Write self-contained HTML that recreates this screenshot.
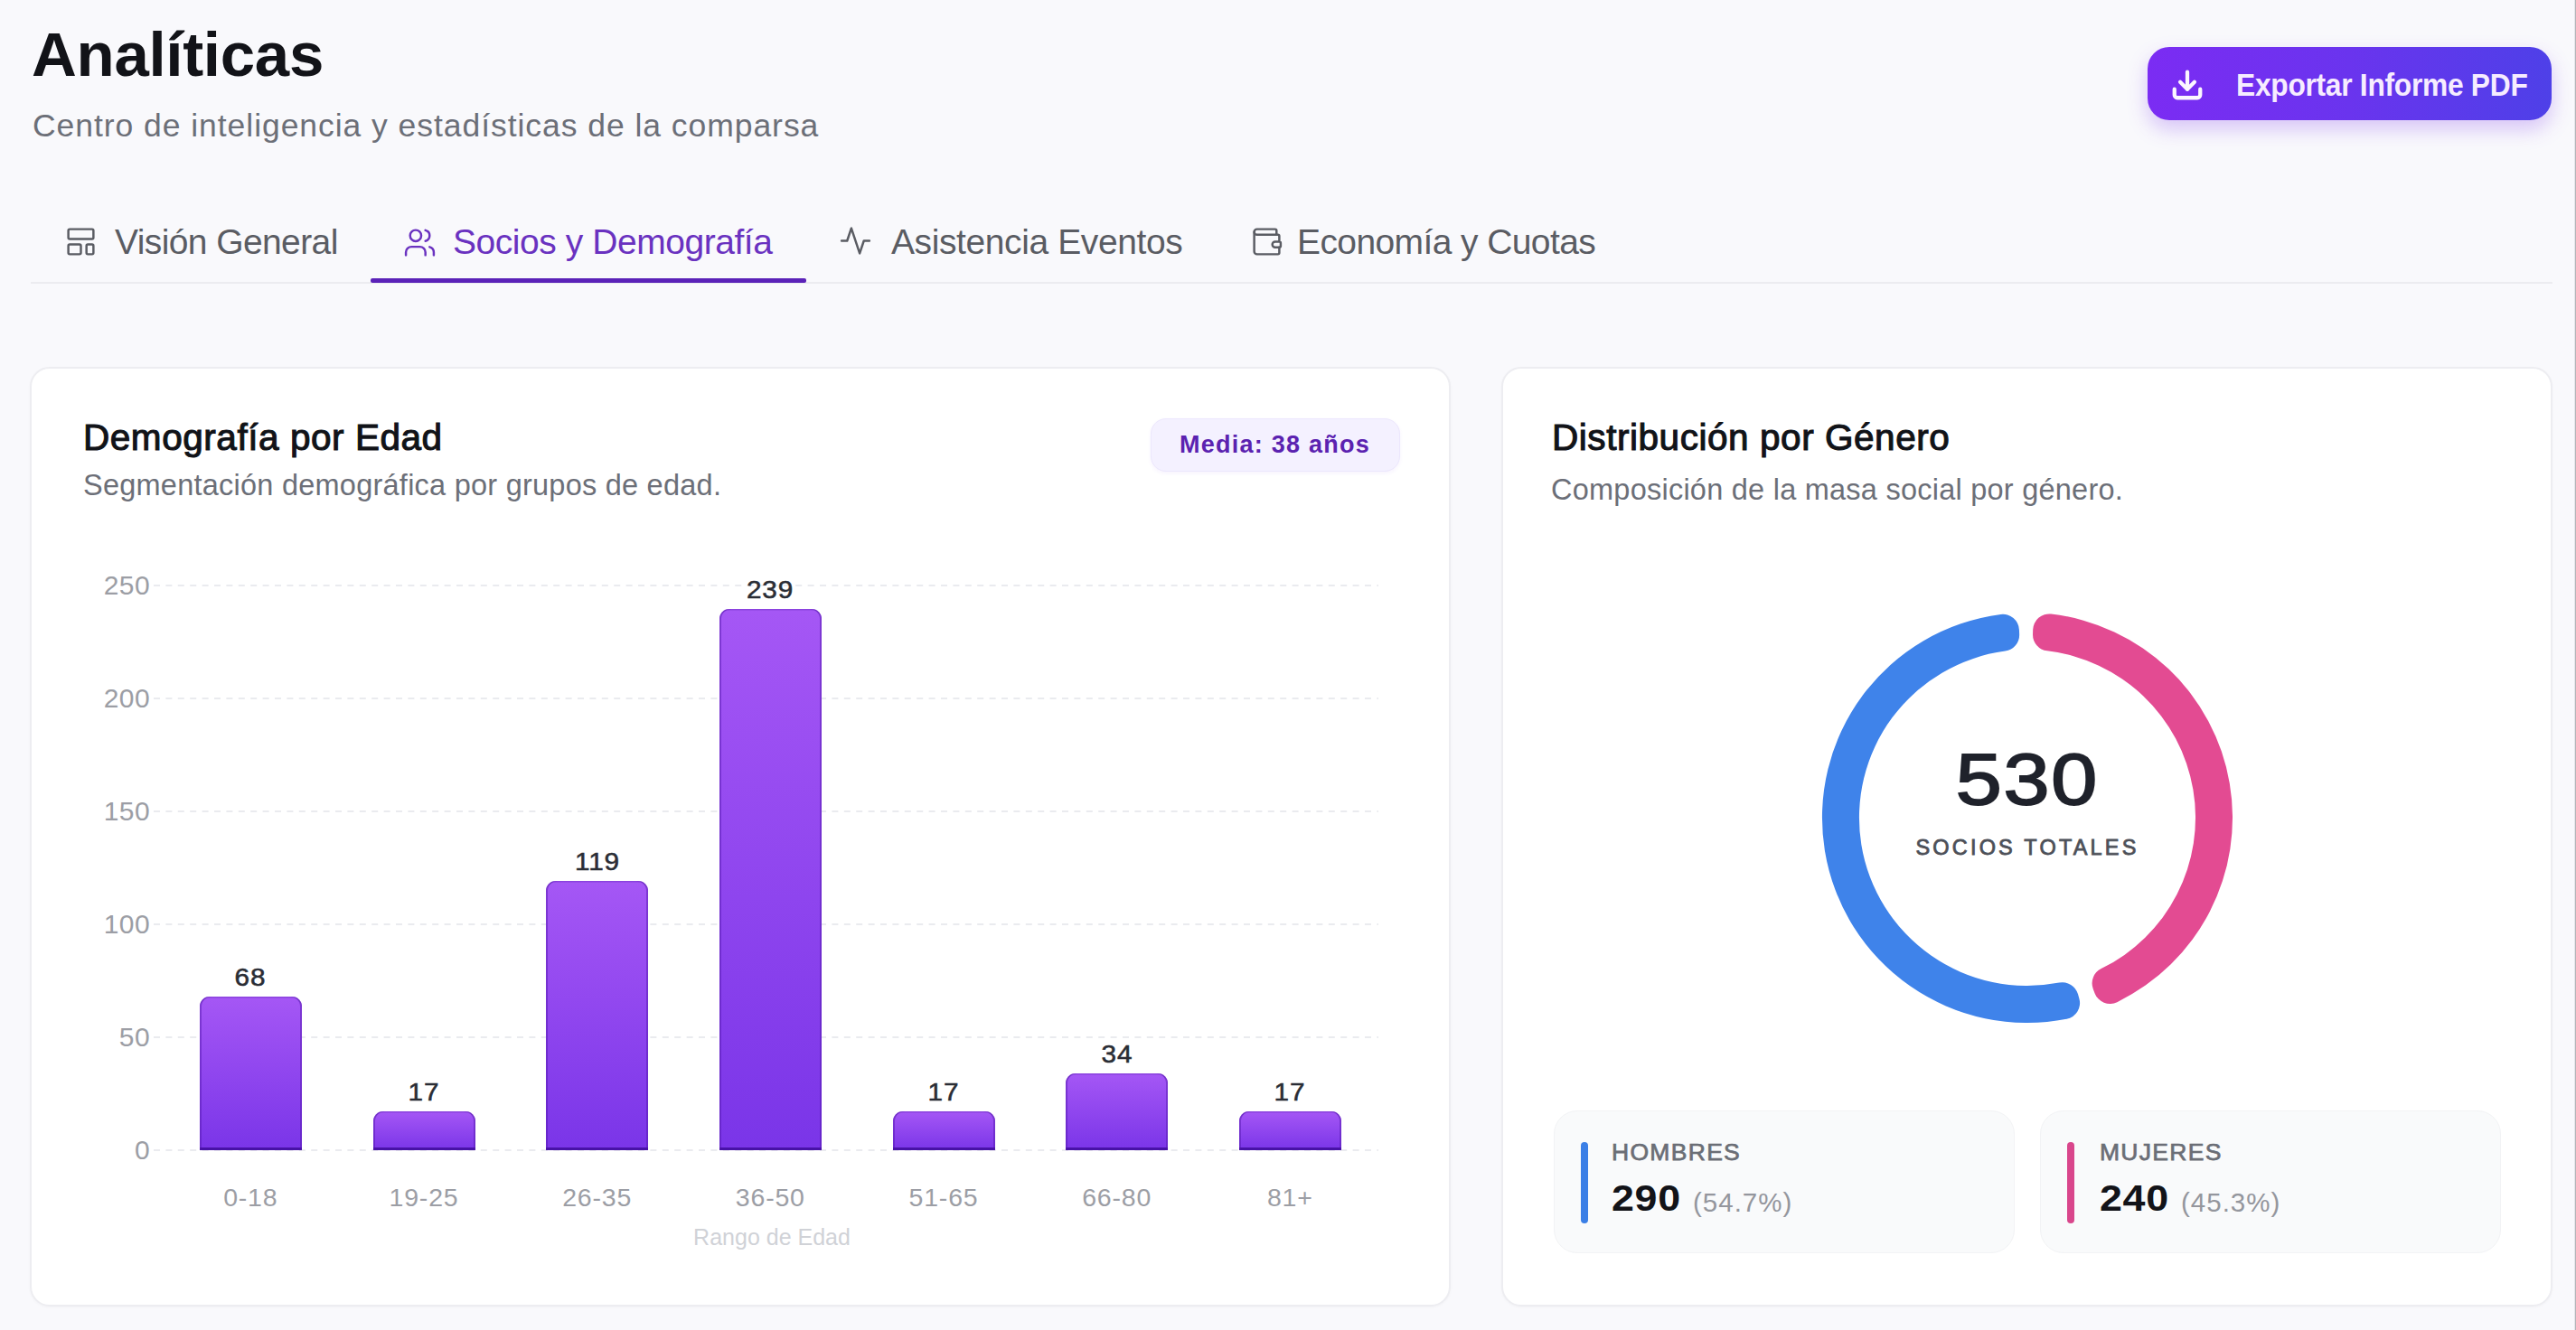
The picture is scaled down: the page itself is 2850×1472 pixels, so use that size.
<!DOCTYPE html>
<html lang="es">
<head>
<meta charset="utf-8">
<title>Analíticas</title>
<style>
html,body{margin:0;padding:0;}
body{width:2850px;height:1472px;overflow:hidden;background:#f9f9fc;font-family:"Liberation Sans",sans-serif;position:relative;}
.a{position:absolute;white-space:nowrap;}
.edge{position:absolute;left:2848px;top:0;width:1px;height:1472px;background:#e6e6ea;border-right:1px solid #b4b4b8;}
#title{left:35px;top:26px;font-size:69px;line-height:69px;font-weight:700;color:#121318;letter-spacing:-0.3px;}
#sub{left:36px;top:121px;font-size:35.5px;line-height:36px;color:#6c6f78;letter-spacing:0.95px;}
#btn{left:2376px;top:52px;width:447px;height:81px;border-radius:24px;background:linear-gradient(90deg,#7b2cf3 0%,#6a34ee 50%,#4e40e8 100%);box-shadow:0 10px 22px rgba(124,58,237,0.28);}
#btn svg{position:absolute;left:25px;top:23px;}
#btntxt{left:98px;top:25px;font-size:34.5px;line-height:35px;color:#f6ecff;font-weight:700;letter-spacing:-0.3px;transform:scaleX(0.92);transform-origin:0 0;}
.tabline{position:absolute;left:34px;top:312px;width:2790px;height:2px;background:#ececf0;}
.tabul{position:absolute;left:410px;top:308px;width:482px;height:5px;background:#5b22b8;border-radius:2px;}
.tab{font-size:39px;line-height:39px;color:#5a5c63;letter-spacing:-0.6px;top:248px;}
.tab.act{color:#6a32c0;letter-spacing:-0.45px;}
.ico{position:absolute;}
.card{position:absolute;background:#fff;border:2px solid #ededf1;border-radius:22px;box-shadow:0 1px 3px rgba(17,24,39,0.03);box-sizing:border-box;}
.ctitle{font-size:40.5px;line-height:41px;font-weight:400;-webkit-text-stroke:1.1px #111318;color:#111318;letter-spacing:0.55px;}
.csub{font-size:32.5px;line-height:33px;color:#6c6f78;letter-spacing:0.24px;}
#badge{left:1273px;top:463px;width:276px;height:59px;box-sizing:border-box;border:1.5px solid #ece7fd;background:#f4f1ff;border-radius:17px;box-shadow:0 2px 4px rgba(124,58,237,0.06);}
#badgetxt{left:1305px;top:479px;font-size:27px;line-height:27px;font-weight:700;color:#5b22b0;letter-spacing:1.25px;}
.ylab{font-size:30px;line-height:28px;color:#9c9ea5;text-align:right;width:80px;letter-spacing:0.4px;}
.val{font-size:27.5px;line-height:27px;color:#2a2d35;font-weight:400;-webkit-text-stroke:0.55px #2a2d35;text-align:center;width:120px;letter-spacing:0.8px;transform:scaleX(1.08);}
.xlab{font-size:28.5px;line-height:28px;color:#9c9ea5;text-align:center;width:160px;letter-spacing:0.8px;}
.bar{position:absolute;width:113px;border-radius:11px 11px 0 0;background:linear-gradient(180deg,#a557f5,#7a35e8);box-shadow:inset 2px 0 0 rgba(80,20,170,0.45),inset -2px 0 0 rgba(80,20,170,0.45),inset 0 -3px 0 rgba(60,10,150,0.8),inset 0 1.5px 0 rgba(80,20,170,0.3);}
#rango{left:704px;top:1357px;width:300px;text-align:center;font-size:25px;line-height:25px;color:#d0d2d7;}
#n530{left:2092px;top:823px;width:300px;text-align:center;font-size:79px;line-height:79px;font-weight:400;-webkit-text-stroke:1.9px #1f222b;color:#1f222b;letter-spacing:1.5px;text-indent:1.5px;transform:scaleX(1.16);}
#socios{left:2043px;top:927px;width:400px;text-align:center;font-size:23.5px;line-height:23px;font-weight:400;-webkit-text-stroke:0.8px #4d5058;color:#4d5058;letter-spacing:3.2px;}
.stat{position:absolute;top:1229px;width:510px;height:158px;box-sizing:border-box;background:#f9fafb;border:1.5px solid #f2f3f5;border-radius:26px;}
.sbar{position:absolute;top:34px;width:8px;height:90px;border-radius:4px;}
.slab{font-size:26.5px;line-height:26px;font-weight:400;-webkit-text-stroke:0.75px #6b6e76;color:#6b6e76;letter-spacing:1.3px;}
.snum{font-size:40px;line-height:41px;font-weight:700;color:#121318;letter-spacing:0.6px;transform:scaleX(1.12);transform-origin:0 0;}
.spct{font-size:29.5px;line-height:29px;color:#94969d;letter-spacing:1px;}
</style>
</head>
<body>
<div class="edge"></div>

<div id="title" class="a">Analíticas</div>
<div id="sub" class="a">Centro de inteligencia y estadísticas de la comparsa</div>

<div id="btn" class="a">
  <svg width="38" height="38" viewBox="0 0 24 24" fill="none" stroke="#fbf7ff" stroke-width="2.7" stroke-linecap="round" stroke-linejoin="round"><path d="M21 15v4a2 2 0 0 1-2 2H5a2 2 0 0 1-2-2v-4"/><polyline points="7 10 12 15 17 10"/><line x1="12" y1="15" x2="12" y2="3"/></svg>
  <div id="btntxt" class="a">Exportar Informe PDF</div>
</div>

<!-- tabs -->
<div class="tabline"></div>
<div class="tabul"></div>
<svg class="ico" style="left:71px;top:249px" width="37" height="37" viewBox="0 0 24 24" fill="none" stroke="#5a5c63" stroke-width="1.6" stroke-linecap="round" stroke-linejoin="round"><rect width="18" height="7" x="3" y="3" rx="1"/><rect width="9" height="7" x="3" y="14" rx="1"/><rect width="5" height="7" x="16" y="14" rx="1"/></svg>
<div class="a tab" style="left:127px">Visión General</div>
<svg class="ico" style="left:446px;top:250px" width="37" height="37" viewBox="0 0 24 24" fill="none" stroke="#6a32c0" stroke-width="1.6" stroke-linecap="round" stroke-linejoin="round"><path d="M16 21v-2a4 4 0 0 0-4-4H6a4 4 0 0 0-4 4v2"/><circle cx="9" cy="7" r="4"/><path d="M22 21v-2a4 4 0 0 0-3-3.87"/><path d="M16 3.13a4 4 0 0 1 0 7.75"/></svg>
<div class="a tab act" style="left:501px">Socios y Demografía</div>
<svg class="ico" style="left:928px;top:248px" width="37" height="37" viewBox="0 0 24 24" fill="none" stroke="#5a5c63" stroke-width="1.6" stroke-linecap="round" stroke-linejoin="round"><path d="M22 12h-4l-3 9L9 3l-3 9H2"/></svg>
<div class="a tab" style="left:986px;letter-spacing:-0.4px">Asistencia Eventos</div>
<svg class="ico" style="left:1383px;top:249px" width="37" height="37" viewBox="0 0 24 24" fill="none" stroke="#5a5c63" stroke-width="1.6" stroke-linecap="round" stroke-linejoin="round"><path d="M19 7V4a1 1 0 0 0-1-1H5a2 2 0 0 0 0 4h15a1 1 0 0 1 1 1v4h-3a2 2 0 0 0 0 4h3a1 1 0 0 0 1-1v-2a1 1 0 0 0-1-1"/><path d="M3 5v14a2 2 0 0 0 2 2h15a1 1 0 0 0 1-1v-4"/></svg>
<div class="a tab" style="left:1435px">Economía y Cuotas</div>

<!-- left card -->
<div class="card" style="left:33px;top:406px;width:1572px;height:1040px"></div>
<div class="a ctitle" style="left:92px;top:464px">Demografía por Edad</div>
<div class="a csub" style="left:92px;top:521px">Segmentación demográfica por grupos de edad.</div>
<div id="badge" class="a"></div>
<div id="badgetxt" class="a">Media: 38 años</div>

<svg class="ico" style="left:0;top:0" width="1620" height="1300">
  <g stroke="#eaebef" stroke-width="2" stroke-dasharray="7 6.4">
    <line x1="170" y1="648" x2="1525" y2="648"/>
    <line x1="170" y1="773" x2="1525" y2="773"/>
    <line x1="170" y1="898" x2="1525" y2="898"/>
    <line x1="170" y1="1023" x2="1525" y2="1023"/>
    <line x1="170" y1="1148" x2="1525" y2="1148"/>
    <line x1="170" y1="1273" x2="1525" y2="1273"/>
  </g>
</svg>
<div class="a ylab" style="left:86px;top:634px">250</div>
<div class="a ylab" style="left:86px;top:759px">200</div>
<div class="a ylab" style="left:86px;top:884px">150</div>
<div class="a ylab" style="left:86px;top:1009px">100</div>
<div class="a ylab" style="left:86px;top:1134px">50</div>
<div class="a ylab" style="left:86px;top:1259px">0</div>



<div class="bar" style="left:220.8px;top:1102.7px;height:170.3px"></div>
<div class="bar" style="left:412.5px;top:1230.4px;height:42.6px"></div>
<div class="bar" style="left:604.1px;top:975.0px;height:298.0px"></div>
<div class="bar" style="left:795.8px;top:674.4px;height:598.6px"></div>
<div class="bar" style="left:987.5px;top:1230.4px;height:42.6px"></div>
<div class="bar" style="left:1179.1px;top:1187.8px;height:85.2px"></div>
<div class="bar" style="left:1370.8px;top:1230.4px;height:42.6px"></div>
<div class="a val" style="left:217.3px;top:1067.7px">68</div>
<div class="a val" style="left:409.0px;top:1195.4px">17</div>
<div class="a val" style="left:600.6px;top:940.0px">119</div>
<div class="a val" style="left:792.3px;top:639.4px">239</div>
<div class="a val" style="left:984.0px;top:1195.4px">17</div>
<div class="a val" style="left:1175.6px;top:1152.8px">34</div>
<div class="a val" style="left:1367.3px;top:1195.4px">17</div>
<div class="a xlab" style="left:197.3px;top:1311px">0-18</div>
<div class="a xlab" style="left:389.0px;top:1311px">19-25</div>
<div class="a xlab" style="left:580.6px;top:1311px">26-35</div>
<div class="a xlab" style="left:772.3px;top:1311px">36-50</div>
<div class="a xlab" style="left:964.0px;top:1311px">51-65</div>
<div class="a xlab" style="left:1155.6px;top:1311px">66-80</div>
<div class="a xlab" style="left:1347.3px;top:1311px">81+</div>
<div id="rango" class="a">Rango de Edad</div>

<!-- right card -->
<div class="card" style="left:1661px;top:406px;width:1163px;height:1040px"></div>
<div class="a ctitle" style="left:1717px;top:464px">Distribución por Género</div>
<div class="a csub" style="left:1716px;top:526px">Composición de la masa social por género.</div>

<svg class="ico" style="left:0;top:0" width="2850" height="1200">
  <path fill="#3f83ea" d="M2233.92,696.97 A18,18,0,0,0,2213.60,679.91 A227,227,0,1,0,2286.54,1127.78 A18,18,0,0,0,2300.39,1105.16 L2299.01,1100.33 A18,18,0,0,0,2278.29,1087.62 A186,186,0,1,1,2218.52,720.62 A18,18,0,0,0,2234.14,701.99Z"/>
  <path fill="#e34b92" d="M2317.62,1099.39 A18,18,0,0,0,2342.30,1109.13 A227,227,0,0,0,2269.25,679.52 A18,18,0,0,0,2249.18,696.87 L2249.03,701.89 A18,18,0,0,0,2264.90,720.29 A186,186,0,0,1,2324.72,1072.09 A18,18,0,0,0,2315.82,1094.71Z"/>
</svg>
<div id="n530" class="a">530</div>
<div id="socios" class="a">SOCIOS TOTALES</div>

<div class="stat" style="left:1719px"><div class="sbar" style="left:28.5px;background:#3b7fe6"></div></div>
<div class="stat" style="left:2257px"><div class="sbar" style="left:28.5px;background:#d9468c"></div></div>
<div class="a slab" style="left:1783px;top:1262px">HOMBRES</div>
<div class="a snum" style="left:1783px;top:1306px">290</div>
<div class="a spct" style="left:1873px;top:1316px">(54.7%)</div>
<div class="a slab" style="left:2323px;top:1262px">MUJERES</div>
<div class="a snum" style="left:2323px;top:1306px">240</div>
<div class="a spct" style="left:2413px;top:1316px">(45.3%)</div>

</body>
</html>
